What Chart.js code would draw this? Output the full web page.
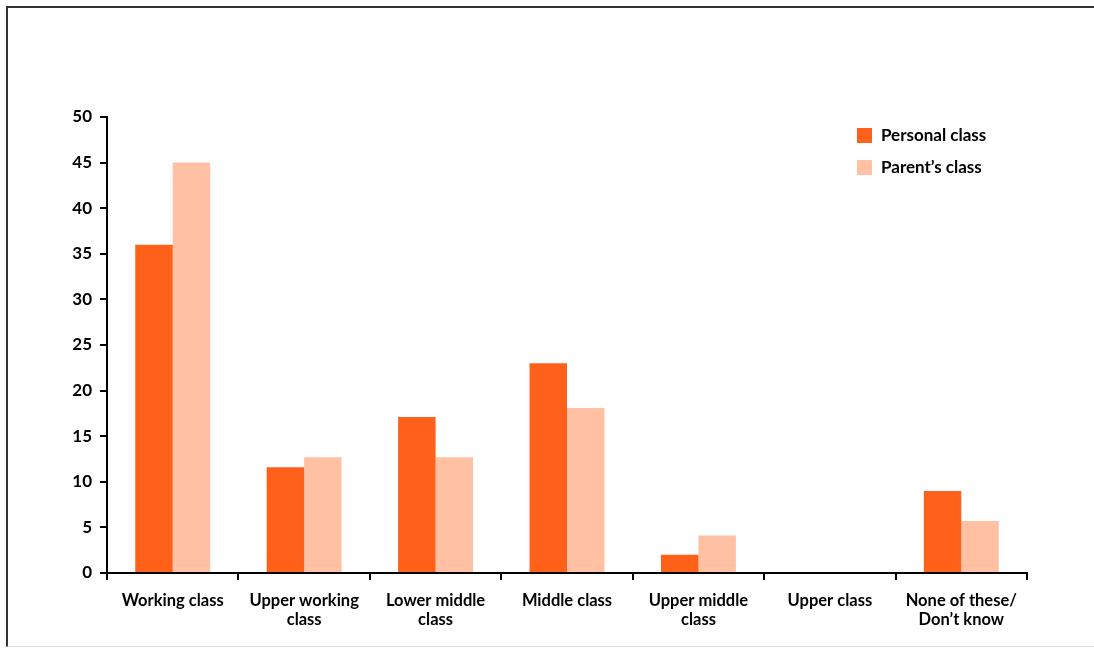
<!DOCTYPE html>
<html>
<head>
<meta charset="utf-8">
<script src="https://cdn.jsdelivr.net/npm/chart.js@4"></script>
<style>
    html, body { margin: 0; padding: 0; background: #fff; overflow: hidden; width: 1094px; height: 648px; }
    #frame {
        position: absolute; left: 6px; top: 6px; width: 1100px; height: 641px;
        border-top: 2px solid #333; border-left: 2px solid #333; border-bottom: 1px solid #ddd;
        box-sizing: border-box;
    }
    #wrap { position: absolute; left: 0; top: 0; width: 1094px; height: 648px; }
</style>
</head>
<body>
<div id="frame"></div>
<div id="wrap"><canvas id="class-chart" width="1094" height="648"></canvas></div>
<script>
// Données
const categories = [
    'Working class',
    ['Upper working', 'class'],
    ['Lower middle', 'class'],
    'Middle class',
    ['Upper middle', 'class'],
    'Upper class',
    ['None of these/', 'Don\u2019t know']
];
const personalClass = [36, 11.6, 17.1, 23, 2, 0, 9];
const parentsClass = [45, 12.7, 12.7, 18.1, 4.1, 0, 5.7];
const seriesNames = ['Personal class', 'Parent\u2019s class'];
const yTicks = [0, 5, 10, 15, 20, 25, 30, 35, 40, 45, 50];

const FONT = 'Lato, "Open Sans", sans-serif';

// Légende dessinée dans la zone du graphique, en haut à droite
const insideLegend = {
    id: 'insideLegend',
    afterDraw(chart) {
        const ctx = chart.ctx;
        ctx.save();
        ctx.font = 'bold 17px ' + FONT;
        ctx.textBaseline = 'middle';
        chart.data.datasets.forEach((ds, i) => {
            const y = 128 + i * 32;
            ctx.fillStyle = ds.backgroundColor;
            ctx.fillRect(857, y, 15, 15);
            ctx.fillStyle = '#000';
            ctx.fillText(ds.label, 881, y + 8);
        });
        ctx.restore();
    }
};

const ctx = document.getElementById('class-chart').getContext('2d');
const classChart = new Chart(ctx, {
    type: 'bar',
    data: {
        labels: categories,
        datasets: [{
            label: seriesNames[0],
            data: personalClass,
            backgroundColor: '#FF601A',
            categoryPercentage: 0.57,
            barPercentage: 1
        }, {
            label: seriesNames[1],
            data: parentsClass,
            backgroundColor: '#FFC0A4',
            categoryPercentage: 0.57,
            barPercentage: 1
        }]
    },
    plugins: [insideLegend],
    options: {
        responsive: false,
        animation: false,
        layout: { padding: { top: 117, right: 67, bottom: 0, left: 0 } },
        plugins: {
            legend: { display: false },
            tooltip: { enabled: false }
        },
        scales: {
            x: {
                grid: { display: true, drawOnChartArea: false, drawTicks: true, tickLength: 7, color: '#000', lineWidth: 2, offset: true },
                border: { display: true, color: '#000', width: 2 },
                ticks: { color: '#000', font: { family: FONT, size: 16.5, weight: 'bold', lineHeight: '19px' }, padding: 11, maxRotation: 0, autoSkip: false },
                afterFit: scale => { scale.height = 75; }
            },
            y: {
                min: 0,
                max: 50,
                afterBuildTicks: scale => { scale.ticks = yTicks.map(v => ({ value: v })); },
                grid: { display: true, drawOnChartArea: false, drawTicks: true, tickLength: 7, color: '#000', lineWidth: 2 },
                border: { display: true, color: '#000', width: 2 },
                ticks: { color: '#000', font: { family: FONT, size: 17, weight: 'bold' }, padding: 8 },
                afterFit: scale => { scale.width = 107; }
            }
        }
    }
});
</script>
</body>
</html>
